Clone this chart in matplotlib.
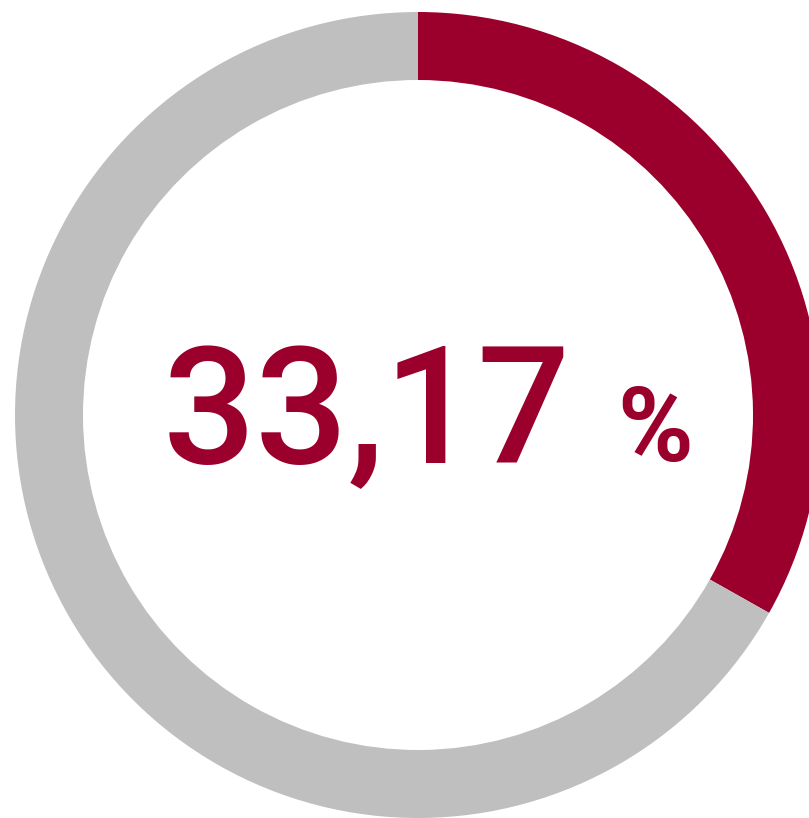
import matplotlib
matplotlib.use("Agg")
import matplotlib.pyplot as plt

# share of the ring
labels = ["Anteil", "Rest"]
values = [33.17, 100 - 33.17]
colors = ["#9B002D", "#BFBFBF"]
value_text = "33,17"
unit_text = "%"

fig = plt.figure(figsize=(8.09, 8.18), dpi=100)
ax = fig.add_axes([0, 0, 1, 1])

# pixel-like coordinates, y going up
ax.pie(values, colors=colors, startangle=90, counterclock=False,
       radius=403, center=(418, 403),
       wedgeprops=dict(width=68, linewidth=0))
ax.set_xlim(0, 809)
ax.set_ylim(0, 818)
ax.set_aspect("equal")
ax.axis("off")

fam = ["DejaVu Sans Condensed", "Roboto", "DejaVu Sans"]
t = ax.text(163, 355, value_text, ha="left", va="baseline", fontsize=116,
            color=colors[0], family=fam, fontweight="medium")
u = ax.text(617, 357, unit_text, ha="left", va="baseline", fontsize=74,
            color=colors[0], family=fam, fontweight="bold")

# fit the big number to roughly the width seen in the reference
r = fig.canvas.get_renderer()
w = t.get_window_extent(r).width
t.set_fontsize(116 * 408 / w)

fig.savefig("out.png", dpi=100)
